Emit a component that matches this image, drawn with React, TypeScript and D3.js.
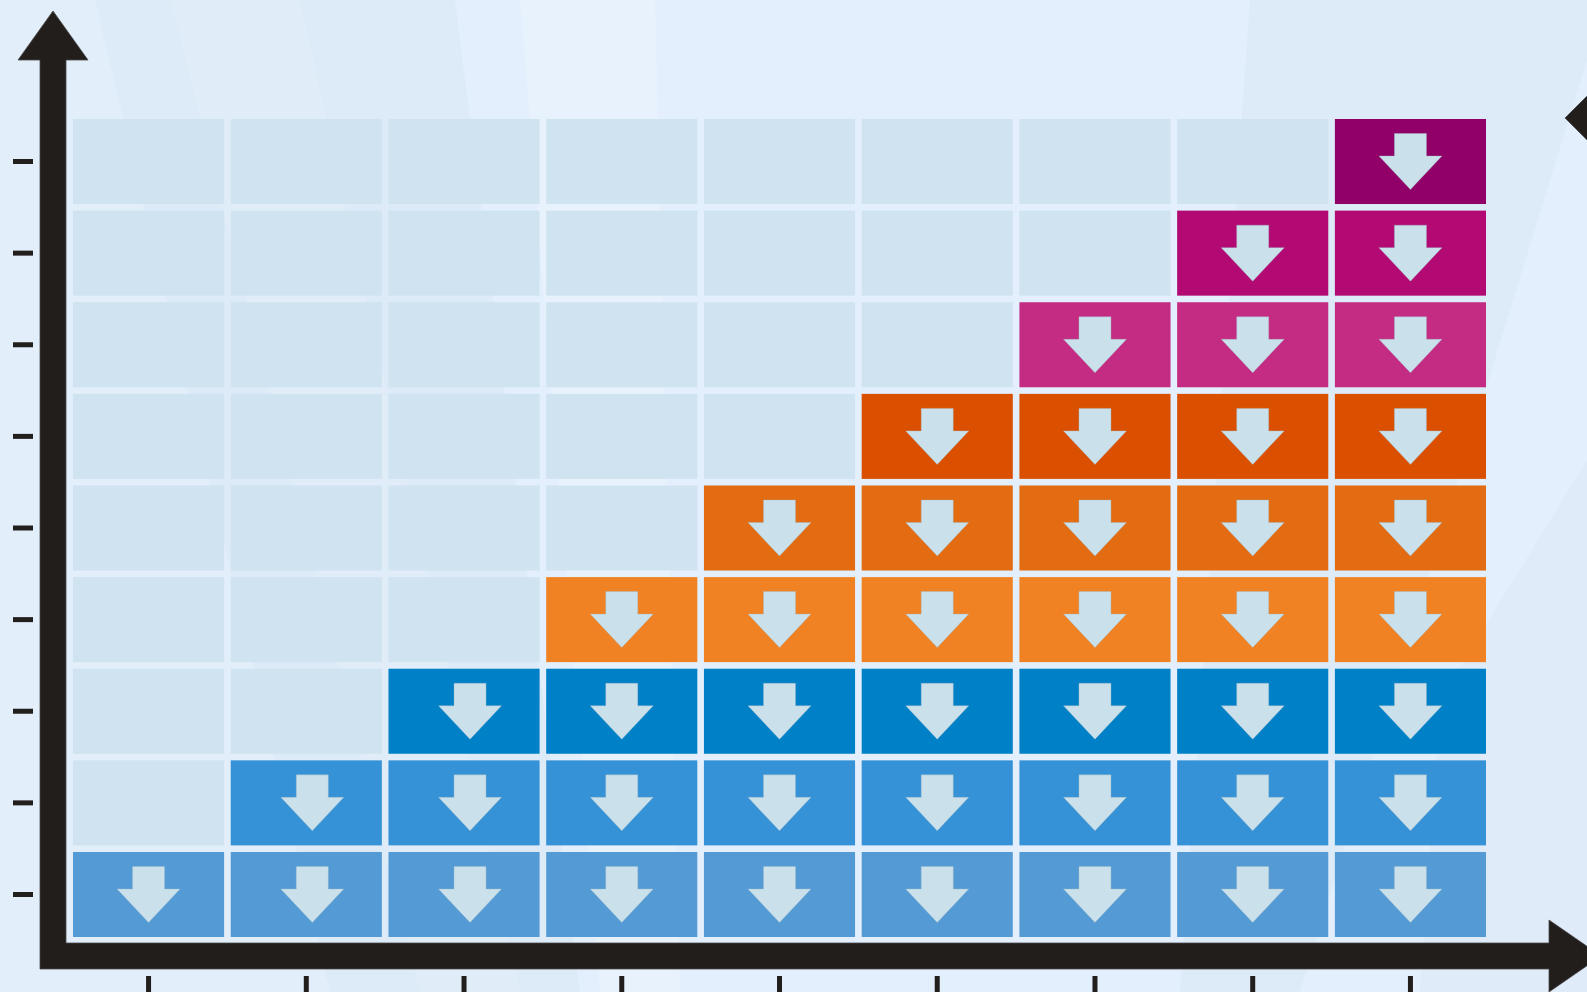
import { useEffect, useRef } from "react";
import * as d3 from "d3";

// columns (x categories) and how many blocks each column stacks up
const categories = ["1", "2", "3", "4", "5", "6", "7", "8", "9"];
const values = [1, 2, 3, 4, 5, 6, 7, 8, 9];
// one level per row, bottom to top
const levels = [0, 1, 2, 3, 4, 5, 6, 7, 8];
const levelColors = [
  "#549BD5",
  "#3592D6",
  "#0080C6",
  "#F08223",
  "#E36C12",
  "#DA5000",
  "#C42B82",
  "#B20A72",
  "#900068",
];

const W = 1587;
const H = 992;
const INK = "#221E1C";
const EMPTY = "#D0E3F0";
const ARROW = "#CAE0EA";

const App = () => {
  const svgRef = useRef<SVGSVGElement | null>(null);

  useEffect(() => {
    document.body.style.margin = "0";
    document.body.style.overflow = "hidden";

    const svg = d3.select(svgRef.current);
    svg.selectAll("*").remove();

    // background with faint diagonal streaks
    svg.append("rect").attr("width", W).attr("height", H).attr("fill", "#DDEAF7");
    const streaks: { pts: [number, number][]; fill: string }[] = [
      { pts: [[0, 0], [95, 0], [330, 992], [0, 992]], fill: "#E3EEFB" },
      { pts: [[170, 0], [300, 0], [520, 992], [420, 992]], fill: "#E0EDF9" },
      { pts: [[455, 0], [1250, 0], [1180, 992], [580, 992]], fill: "#E3EFFD" },
      { pts: [[520, 0], [655, 0], [680, 992], [600, 992]], fill: "#E8F2FD" },
      { pts: [[1587, 60], [1587, 992], [1300, 992]], fill: "#E3EFFC" },
      { pts: [[1587, 460], [1587, 992], [1420, 992], [1440, 700]], fill: "#DFEBF8" },
    ];
    svg
      .append("g")
      .selectAll("path")
      .data(streaks)
      .join("path")
      .attr("d", (d) => d3.line()(d.pts) + "Z")
      .attr("fill", (d) => d.fill);

    const x = d3
      .scaleBand<string>()
      .domain(categories)
      .range([73, 1486])
      .paddingInner(0.042);

    const y = d3
      .scaleBand<number>()
      .domain(levels)
      .range([937, 119])
      .paddingInner(0.072);

    const bw = x.bandwidth();
    const bh = y.bandwidth();

    // slight arrow nudge seen in columns 2 and 3
    const nudge = (c: string) => (c === "2" || c === "3" ? 6 : 0);

    const cells = categories.flatMap((c, ci) =>
      levels.map((l) => ({ c, l, filled: l < values[ci] }))
    );

    const cellG = svg
      .append("g")
      .selectAll("g")
      .data(cells)
      .join("g")
      .attr("transform", (d) => `translate(${x(d.c)},${y(d.l)})`);

    cellG
      .append("rect")
      .attr("width", bw)
      .attr("height", bh)
      .attr("fill", (d) => (d.filled ? levelColors[d.l] : EMPTY));

    // down arrow inside each filled cell
    cellG
      .filter((d) => d.filled)
      .append("path")
      .attr("transform", (d) => `translate(${bw / 2 + nudge(d.c)},${bh / 2})`)
      .attr("d", "M-16,-28 H16 V-5.5 H31.5 L0,28 L-31.5,-5.5 H-16 Z")
      .attr("fill", ARROW)
      .attr("stroke", "#9FB8C8")
      .attr("stroke-width", 0.6)
      .attr("stroke-opacity", 0.6);

    // axes as big arrows
    const axisG = svg.append("g").attr("fill", INK).attr("stroke", "#4a4a4a").attr("stroke-width", 0.8);
    axisG.append("path").attr("d", "M40,60 H18 L53,11 L88,60 H66 V943 H1549 V920 L1601,956 L1549,992 V969 H40 Z");
    axisG.append("path").attr("d", "M1565,118 L1593,90 L1593,146 Z");

    // tick marks (no labels)
    svg
      .append("g")
      .attr("transform", "translate(0,976)")
      .call(d3.axisBottom(x).tickSize(18).tickSizeOuter(0).tickFormat(() => ""))
      .call((g) => {
        g.select(".domain").remove();
        g.selectAll(".tick line").attr("stroke", INK).attr("stroke-width", 5);
      });

    svg
      .append("g")
      .attr("transform", "translate(33,0)")
      .call(d3.axisLeft(y).tickSize(20).tickSizeOuter(0).tickFormat(() => ""))
      .call((g) => {
        g.select(".domain").remove();
        g.selectAll(".tick line").attr("stroke", INK).attr("stroke-width", 5);
      });
  }, []);

  return (
    <svg
      ref={svgRef}
      width={W}
      height={H}
      style={{ position: "fixed", left: 0, top: 0, display: "block" }}
    />
  );
};

export default App;
